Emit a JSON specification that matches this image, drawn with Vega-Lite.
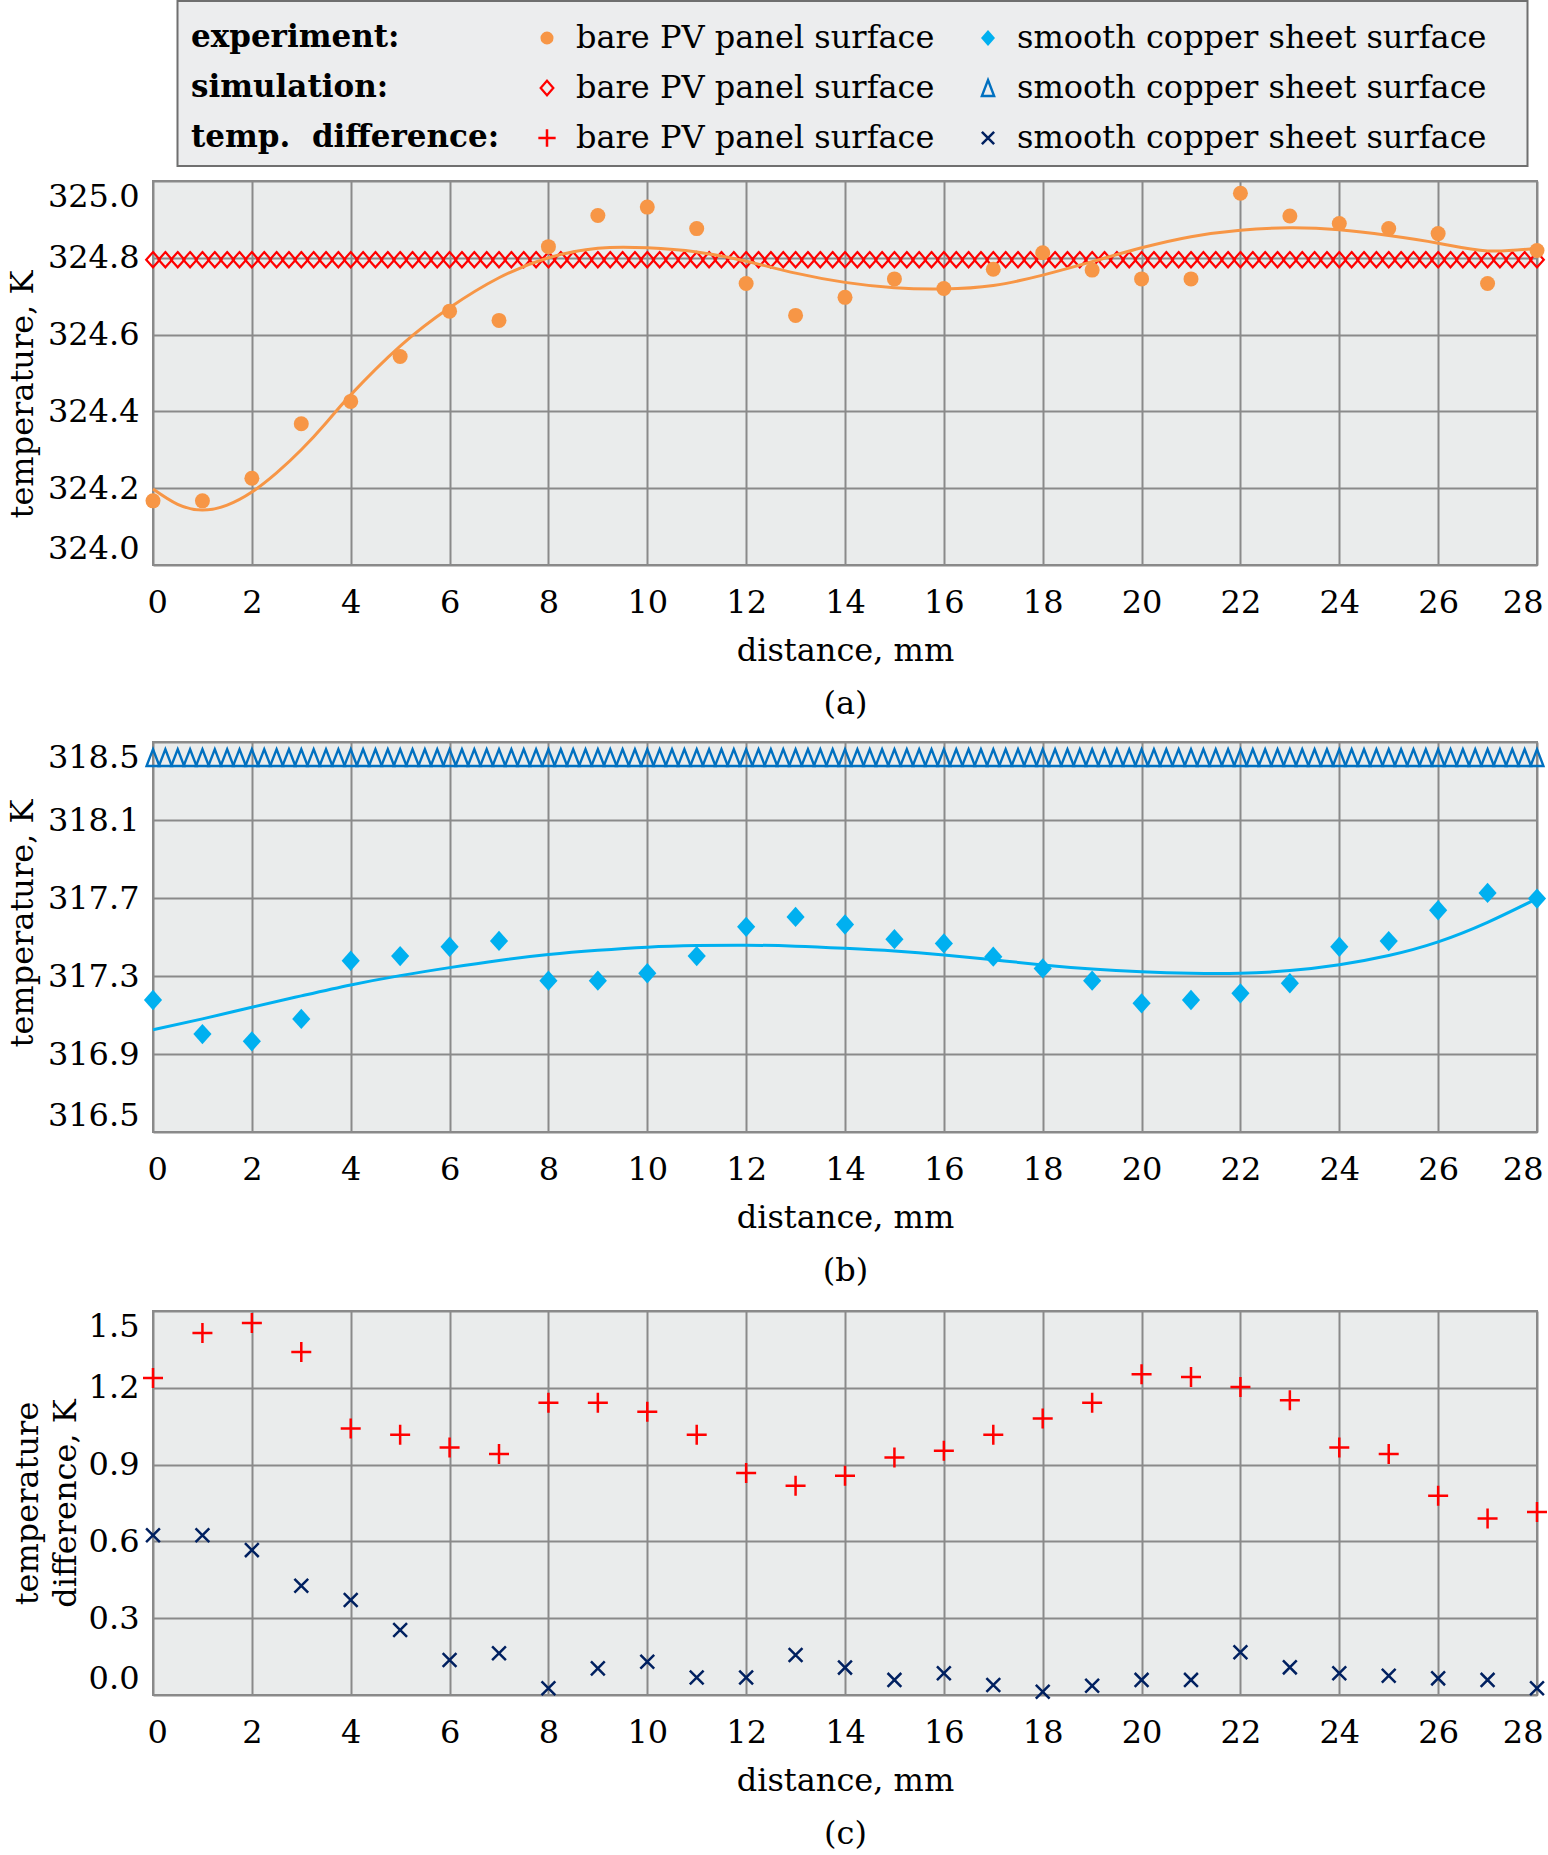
{
  "$schema": "https://vega.github.io/schema/vega-lite/v6.json",
  "padding": {"left": 5, "top": 0, "right": 0, "bottom": 0},
  "background": "white",
  "config": {
    "font": "DejaVu Serif",
    "axis": {"labelFont": "DejaVu Serif", "titleFont": "DejaVu Serif", "labelFontSize": 32, "titleFontSize": 32, "labelColor": "#000000", "titleColor": "#000000", "titleFontWeight": "normal", "domain": false, "ticks": false, "grid": true, "gridColor": "#8a8a8a", "gridWidth": 2, "gridOpacity": 1, "labelFlush": true},
    "axisX": {"labelPadding": 22, "titlePadding": 17, "titleLineHeight": 53, "labelFlushOffset": 6},
    "axisY": {"labelPadding": 14, "titleBaseline": "alphabetic", "labelFlushOffset": 0},
    "view": {"fill": "#eaecec", "stroke": "#888888", "strokeWidth": 2}
  },
  "datasets": {
    "legend": [
      {"row": "experiment:", "col": 0, "kind": "header", "label": "experiment:"},
      {"row": "simulation:", "col": 0, "kind": "header", "label": "simulation:"},
      {"row": "temp. difference:", "col": 0, "kind": "header", "label": "temp.\u00a0 difference:"},
      {"row": "experiment:", "col": 1, "kind": "exp_bare", "label": "bare PV panel surface"},
      {"row": "experiment:", "col": 2, "kind": "exp_copper", "label": "smooth copper sheet surface"},
      {"row": "simulation:", "col": 1, "kind": "sim_bare", "label": "bare PV panel surface"},
      {"row": "simulation:", "col": 2, "kind": "sim_copper", "label": "smooth copper sheet surface"},
      {"row": "temp. difference:", "col": 1, "kind": "diff_bare", "label": "bare PV panel surface"},
      {"row": "temp. difference:", "col": 2, "kind": "diff_copper", "label": "smooth copper sheet surface"}
    ],
    "expA": [
      {"x": 0, "y": 324.167}, {"x": 1, "y": 324.167}, {"x": 2, "y": 324.226}, {"x": 3, "y": 324.368}, {"x": 4, "y": 324.426}, {"x": 5, "y": 324.543}, {"x": 6, "y": 324.661}, {"x": 7, "y": 324.637}, {"x": 8, "y": 324.829}, {"x": 9, "y": 324.91}, {"x": 10, "y": 324.932}, {"x": 11, "y": 324.876}, {"x": 12, "y": 324.733}, {"x": 13, "y": 324.65}, {"x": 14, "y": 324.697}, {"x": 15, "y": 324.745}, {"x": 16, "y": 324.72}, {"x": 17, "y": 324.77}, {"x": 18, "y": 324.813}, {"x": 19, "y": 324.768}, {"x": 20, "y": 324.745}, {"x": 21, "y": 324.745}, {"x": 22, "y": 324.968}, {"x": 23, "y": 324.909}, {"x": 24, "y": 324.889}, {"x": 25, "y": 324.876}, {"x": 26, "y": 324.863}, {"x": 27, "y": 324.733}, {"x": 28, "y": 324.819}
    ],
    "fitA": [
      {"x": 0, "y": 324.198}, {"x": 0.5, "y": 324.158}, {"x": 1, "y": 324.143}, {"x": 1.5, "y": 324.156}, {"x": 2, "y": 324.19}, {"x": 2.5, "y": 324.24}, {"x": 3, "y": 324.3}, {"x": 3.5, "y": 324.37}, {"x": 4, "y": 324.443}, {"x": 5, "y": 324.57}, {"x": 6, "y": 324.67}, {"x": 7, "y": 324.748}, {"x": 8, "y": 324.8}, {"x": 9, "y": 324.825}, {"x": 10, "y": 324.826}, {"x": 11, "y": 324.815}, {"x": 12, "y": 324.791}, {"x": 13, "y": 324.76}, {"x": 14, "y": 324.736}, {"x": 15, "y": 324.722}, {"x": 16, "y": 324.719}, {"x": 17, "y": 324.728}, {"x": 18, "y": 324.755}, {"x": 19, "y": 324.79}, {"x": 20, "y": 324.826}, {"x": 21, "y": 324.855}, {"x": 22, "y": 324.872}, {"x": 23, "y": 324.878}, {"x": 24, "y": 324.873}, {"x": 25, "y": 324.858}, {"x": 26, "y": 324.838}, {"x": 27, "y": 324.818}, {"x": 28, "y": 324.825}
    ],
    "simA": [
      {"x": 0, "y": 324.795}, {"x": 0.25, "y": 324.795}, {"x": 0.5, "y": 324.795}, {"x": 0.75, "y": 324.795}, {"x": 1, "y": 324.795}, {"x": 1.25, "y": 324.795}, {"x": 1.5, "y": 324.795}, {"x": 1.75, "y": 324.795}, {"x": 2, "y": 324.795}, {"x": 2.25, "y": 324.795}, {"x": 2.5, "y": 324.795}, {"x": 2.75, "y": 324.795}, {"x": 3, "y": 324.795}, {"x": 3.25, "y": 324.795}, {"x": 3.5, "y": 324.795}, {"x": 3.75, "y": 324.795}, {"x": 4, "y": 324.795}, {"x": 4.25, "y": 324.795}, {"x": 4.5, "y": 324.795}, {"x": 4.75, "y": 324.795}, {"x": 5, "y": 324.795}, {"x": 5.25, "y": 324.795}, {"x": 5.5, "y": 324.795}, {"x": 5.75, "y": 324.795}, {"x": 6, "y": 324.795}, {"x": 6.25, "y": 324.795}, {"x": 6.5, "y": 324.795}, {"x": 6.75, "y": 324.795}, {"x": 7, "y": 324.795}, {"x": 7.25, "y": 324.795}, {"x": 7.5, "y": 324.795}, {"x": 7.75, "y": 324.795}, {"x": 8, "y": 324.795}, {"x": 8.25, "y": 324.795}, {"x": 8.5, "y": 324.795}, {"x": 8.75, "y": 324.795}, {"x": 9, "y": 324.795}, {"x": 9.25, "y": 324.795}, {"x": 9.5, "y": 324.795}, {"x": 9.75, "y": 324.795}, {"x": 10, "y": 324.795}, {"x": 10.25, "y": 324.795}, {"x": 10.5, "y": 324.795}, {"x": 10.75, "y": 324.795}, {"x": 11, "y": 324.795}, {"x": 11.25, "y": 324.795}, {"x": 11.5, "y": 324.795}, {"x": 11.75, "y": 324.795}, {"x": 12, "y": 324.795}, {"x": 12.25, "y": 324.795}, {"x": 12.5, "y": 324.795}, {"x": 12.75, "y": 324.795}, {"x": 13, "y": 324.795}, {"x": 13.25, "y": 324.795}, {"x": 13.5, "y": 324.795}, {"x": 13.75, "y": 324.795}, {"x": 14, "y": 324.795}, {"x": 14.25, "y": 324.795}, {"x": 14.5, "y": 324.795}, {"x": 14.75, "y": 324.795}, {"x": 15, "y": 324.795}, {"x": 15.25, "y": 324.795}, {"x": 15.5, "y": 324.795}, {"x": 15.75, "y": 324.795}, {"x": 16, "y": 324.795}, {"x": 16.25, "y": 324.795}, {"x": 16.5, "y": 324.795}, {"x": 16.75, "y": 324.795}, {"x": 17, "y": 324.795}, {"x": 17.25, "y": 324.795}, {"x": 17.5, "y": 324.795}, {"x": 17.75, "y": 324.795}, {"x": 18, "y": 324.795}, {"x": 18.25, "y": 324.795}, {"x": 18.5, "y": 324.795}, {"x": 18.75, "y": 324.795}, {"x": 19, "y": 324.795}, {"x": 19.25, "y": 324.795}, {"x": 19.5, "y": 324.795}, {"x": 19.75, "y": 324.795}, {"x": 20, "y": 324.795}, {"x": 20.25, "y": 324.795}, {"x": 20.5, "y": 324.795}, {"x": 20.75, "y": 324.795}, {"x": 21, "y": 324.795}, {"x": 21.25, "y": 324.795}, {"x": 21.5, "y": 324.795}, {"x": 21.75, "y": 324.795}, {"x": 22, "y": 324.795}, {"x": 22.25, "y": 324.795}, {"x": 22.5, "y": 324.795}, {"x": 22.75, "y": 324.795}, {"x": 23, "y": 324.795}, {"x": 23.25, "y": 324.795}, {"x": 23.5, "y": 324.795}, {"x": 23.75, "y": 324.795}, {"x": 24, "y": 324.795}, {"x": 24.25, "y": 324.795}, {"x": 24.5, "y": 324.795}, {"x": 24.75, "y": 324.795}, {"x": 25, "y": 324.795}, {"x": 25.25, "y": 324.795}, {"x": 25.5, "y": 324.795}, {"x": 25.75, "y": 324.795}, {"x": 26, "y": 324.795}, {"x": 26.25, "y": 324.795}, {"x": 26.5, "y": 324.795}, {"x": 26.75, "y": 324.795}, {"x": 27, "y": 324.795}, {"x": 27.25, "y": 324.795}, {"x": 27.5, "y": 324.795}, {"x": 27.75, "y": 324.795}, {"x": 28, "y": 324.795}
    ],
    "expB": [
      {"x": 0, "y": 317.177}, {"x": 1, "y": 317.002}, {"x": 2, "y": 316.965}, {"x": 3, "y": 317.08}, {"x": 4, "y": 317.378}, {"x": 5, "y": 317.402}, {"x": 6, "y": 317.45}, {"x": 7, "y": 317.48}, {"x": 8, "y": 317.276}, {"x": 9, "y": 317.276}, {"x": 10, "y": 317.314}, {"x": 11, "y": 317.402}, {"x": 12, "y": 317.552}, {"x": 13, "y": 317.603}, {"x": 14, "y": 317.564}, {"x": 15, "y": 317.489}, {"x": 16, "y": 317.467}, {"x": 17, "y": 317.399}, {"x": 18, "y": 317.339}, {"x": 19, "y": 317.276}, {"x": 20, "y": 317.16}, {"x": 21, "y": 317.177}, {"x": 22, "y": 317.211}, {"x": 23, "y": 317.263}, {"x": 24, "y": 317.45}, {"x": 25, "y": 317.479}, {"x": 26, "y": 317.637}, {"x": 27, "y": 317.726}, {"x": 28, "y": 317.697}
    ],
    "fitB": [
      {"x": 0, "y": 317.024}, {"x": 1, "y": 317.08}, {"x": 2, "y": 317.14}, {"x": 3, "y": 317.198}, {"x": 4, "y": 317.254}, {"x": 5, "y": 317.302}, {"x": 6, "y": 317.343}, {"x": 7, "y": 317.38}, {"x": 8, "y": 317.41}, {"x": 9, "y": 317.432}, {"x": 10, "y": 317.448}, {"x": 11, "y": 317.456}, {"x": 12, "y": 317.458}, {"x": 13, "y": 317.453}, {"x": 14, "y": 317.442}, {"x": 15, "y": 317.428}, {"x": 16, "y": 317.408}, {"x": 17, "y": 317.383}, {"x": 18, "y": 317.357}, {"x": 19, "y": 317.336}, {"x": 20, "y": 317.322}, {"x": 21, "y": 317.314}, {"x": 22, "y": 317.314}, {"x": 23, "y": 317.328}, {"x": 24, "y": 317.358}, {"x": 25, "y": 317.405}, {"x": 26, "y": 317.475}, {"x": 27, "y": 317.575}, {"x": 28, "y": 317.697}
    ],
    "simB": [
      {"x": 0, "y": 318.42}, {"x": 0.25, "y": 318.42}, {"x": 0.5, "y": 318.42}, {"x": 0.75, "y": 318.42}, {"x": 1, "y": 318.42}, {"x": 1.25, "y": 318.42}, {"x": 1.5, "y": 318.42}, {"x": 1.75, "y": 318.42}, {"x": 2, "y": 318.42}, {"x": 2.25, "y": 318.42}, {"x": 2.5, "y": 318.42}, {"x": 2.75, "y": 318.42}, {"x": 3, "y": 318.42}, {"x": 3.25, "y": 318.42}, {"x": 3.5, "y": 318.42}, {"x": 3.75, "y": 318.42}, {"x": 4, "y": 318.42}, {"x": 4.25, "y": 318.42}, {"x": 4.5, "y": 318.42}, {"x": 4.75, "y": 318.42}, {"x": 5, "y": 318.42}, {"x": 5.25, "y": 318.42}, {"x": 5.5, "y": 318.42}, {"x": 5.75, "y": 318.42}, {"x": 6, "y": 318.42}, {"x": 6.25, "y": 318.42}, {"x": 6.5, "y": 318.42}, {"x": 6.75, "y": 318.42}, {"x": 7, "y": 318.42}, {"x": 7.25, "y": 318.42}, {"x": 7.5, "y": 318.42}, {"x": 7.75, "y": 318.42}, {"x": 8, "y": 318.42}, {"x": 8.25, "y": 318.42}, {"x": 8.5, "y": 318.42}, {"x": 8.75, "y": 318.42}, {"x": 9, "y": 318.42}, {"x": 9.25, "y": 318.42}, {"x": 9.5, "y": 318.42}, {"x": 9.75, "y": 318.42}, {"x": 10, "y": 318.42}, {"x": 10.25, "y": 318.42}, {"x": 10.5, "y": 318.42}, {"x": 10.75, "y": 318.42}, {"x": 11, "y": 318.42}, {"x": 11.25, "y": 318.42}, {"x": 11.5, "y": 318.42}, {"x": 11.75, "y": 318.42}, {"x": 12, "y": 318.42}, {"x": 12.25, "y": 318.42}, {"x": 12.5, "y": 318.42}, {"x": 12.75, "y": 318.42}, {"x": 13, "y": 318.42}, {"x": 13.25, "y": 318.42}, {"x": 13.5, "y": 318.42}, {"x": 13.75, "y": 318.42}, {"x": 14, "y": 318.42}, {"x": 14.25, "y": 318.42}, {"x": 14.5, "y": 318.42}, {"x": 14.75, "y": 318.42}, {"x": 15, "y": 318.42}, {"x": 15.25, "y": 318.42}, {"x": 15.5, "y": 318.42}, {"x": 15.75, "y": 318.42}, {"x": 16, "y": 318.42}, {"x": 16.25, "y": 318.42}, {"x": 16.5, "y": 318.42}, {"x": 16.75, "y": 318.42}, {"x": 17, "y": 318.42}, {"x": 17.25, "y": 318.42}, {"x": 17.5, "y": 318.42}, {"x": 17.75, "y": 318.42}, {"x": 18, "y": 318.42}, {"x": 18.25, "y": 318.42}, {"x": 18.5, "y": 318.42}, {"x": 18.75, "y": 318.42}, {"x": 19, "y": 318.42}, {"x": 19.25, "y": 318.42}, {"x": 19.5, "y": 318.42}, {"x": 19.75, "y": 318.42}, {"x": 20, "y": 318.42}, {"x": 20.25, "y": 318.42}, {"x": 20.5, "y": 318.42}, {"x": 20.75, "y": 318.42}, {"x": 21, "y": 318.42}, {"x": 21.25, "y": 318.42}, {"x": 21.5, "y": 318.42}, {"x": 21.75, "y": 318.42}, {"x": 22, "y": 318.42}, {"x": 22.25, "y": 318.42}, {"x": 22.5, "y": 318.42}, {"x": 22.75, "y": 318.42}, {"x": 23, "y": 318.42}, {"x": 23.25, "y": 318.42}, {"x": 23.5, "y": 318.42}, {"x": 23.75, "y": 318.42}, {"x": 24, "y": 318.42}, {"x": 24.25, "y": 318.42}, {"x": 24.5, "y": 318.42}, {"x": 24.75, "y": 318.42}, {"x": 25, "y": 318.42}, {"x": 25.25, "y": 318.42}, {"x": 25.5, "y": 318.42}, {"x": 25.75, "y": 318.42}, {"x": 26, "y": 318.42}, {"x": 26.25, "y": 318.42}, {"x": 26.5, "y": 318.42}, {"x": 26.75, "y": 318.42}, {"x": 27, "y": 318.42}, {"x": 27.25, "y": 318.42}, {"x": 27.5, "y": 318.42}, {"x": 27.75, "y": 318.42}, {"x": 28, "y": 318.42}
    ],
    "diffBare": [
      {"x": 0, "y": 1.238}, {"x": 1, "y": 1.414}, {"x": 2, "y": 1.453}, {"x": 3, "y": 1.34}, {"x": 4, "y": 1.041}, {"x": 5, "y": 1.017}, {"x": 6, "y": 0.967}, {"x": 7, "y": 0.941}, {"x": 8, "y": 1.142}, {"x": 9, "y": 1.142}, {"x": 10, "y": 1.106}, {"x": 11, "y": 1.017}, {"x": 12, "y": 0.867}, {"x": 13, "y": 0.817}, {"x": 14, "y": 0.856}, {"x": 15, "y": 0.928}, {"x": 16, "y": 0.954}, {"x": 17, "y": 1.017}, {"x": 18, "y": 1.08}, {"x": 19, "y": 1.142}, {"x": 20, "y": 1.253}, {"x": 21, "y": 1.242}, {"x": 22, "y": 1.203}, {"x": 23, "y": 1.151}, {"x": 24, "y": 0.967}, {"x": 25, "y": 0.941}, {"x": 26, "y": 0.778}, {"x": 27, "y": 0.689}, {"x": 28, "y": 0.715}
    ],
    "diffCopper": [
      {"x": 0, "y": 0.624}, {"x": 1, "y": 0.624}, {"x": 2, "y": 0.566}, {"x": 3, "y": 0.427}, {"x": 4, "y": 0.371}, {"x": 5, "y": 0.254}, {"x": 6, "y": 0.137}, {"x": 7, "y": 0.163}, {"x": 8, "y": 0.026}, {"x": 9, "y": 0.104}, {"x": 10, "y": 0.13}, {"x": 11, "y": 0.068}, {"x": 12, "y": 0.068}, {"x": 13, "y": 0.156}, {"x": 14, "y": 0.107}, {"x": 15, "y": 0.059}, {"x": 16, "y": 0.085}, {"x": 17, "y": 0.039}, {"x": 18, "y": 0.013}, {"x": 19, "y": 0.036}, {"x": 20, "y": 0.059}, {"x": 21, "y": 0.059}, {"x": 22, "y": 0.167}, {"x": 23, "y": 0.108}, {"x": 24, "y": 0.085}, {"x": 25, "y": 0.075}, {"x": 26, "y": 0.065}, {"x": 27, "y": 0.059}, {"x": 28, "y": 0.026}
    ]
  },
  "concat": [
    {
      "width": 1350,
      "height": 165,
      "view": {"fill": "#ecedee", "stroke": "#6f6f6f", "strokeWidth": 2},
      "data": {"name": "legend"},
      "encoding": {
        "x": {"field": "col", "type": "quantitative", "scale": {"domain": [0, 1, 2], "range": [13.5, 369.5, 810.5], "zero": false, "nice": false}, "axis": null},
        "y": {"field": "row", "type": "nominal", "scale": {"type": "point", "domain": ["experiment:", "simulation:", "temp. difference:"], "range": [37, 137], "padding": 0}, "axis": null}
      },
      "layer": [
        {"transform": [{"filter": "datum.kind == 'header'"}], "mark": {"type": "text", "align": "left", "baseline": "middle", "fontWeight": "bold", "fontSize": 31, "font": "DejaVu Serif", "color": "#000000"}, "encoding": {"text": {"field": "label"}}},
        {"transform": [{"filter": "datum.kind != 'header'"}], "mark": {"type": "text", "align": "left", "baseline": "middle", "dx": 29, "fontSize": 32, "font": "DejaVu Serif", "color": "#000000"}, "encoding": {"text": {"field": "label"}}},
        {"transform": [{"filter": "datum.kind == 'exp_bare'"}], "mark": {"type": "point", "shape": "circle", "filled": true, "size": 170, "color": "#f79646", "opacity": 1}},
        {"transform": [{"filter": "datum.kind == 'exp_copper'"}], "mark": {"type": "point", "shape": "M0,-1.15L1,0L0,1.15L-1,0Z", "filled": true, "size": 196, "color": "#00b0f0", "opacity": 1}},
        {"transform": [{"filter": "datum.kind == 'sim_bare'"}], "mark": {"type": "point", "shape": "M0,-1.15L1,0L0,1.15L-1,0Z", "filled": false, "size": 160, "color": "#ff0000", "strokeWidth": 2.2, "opacity": 1}},
        {"transform": [{"filter": "datum.kind == 'sim_copper'"}], "mark": {"type": "point", "shape": "M0,-1.3L1,1.3L-1,1.3Z", "filled": false, "size": 150, "color": "#0070c0", "strokeWidth": 2.4, "opacity": 1}},
        {"transform": [{"filter": "datum.kind == 'diff_bare'"}], "mark": {"type": "point", "shape": "M-1,0L1,0M0,-1L0,1", "filled": false, "size": 300, "color": "#ff0000", "strokeWidth": 2.5, "opacity": 1}},
        {"transform": [{"filter": "datum.kind == 'diff_copper'"}], "mark": {"type": "point", "shape": "M-1,-1L1,1M-1,1L1,-1", "filled": false, "size": 150, "color": "#002060", "strokeWidth": 2.5, "opacity": 1}}
      ]
    },
    {
      "vconcat": [
        {
          "width": 1384,
          "height": 384,
          "encoding": {
            "x": {"field": "x", "type": "quantitative", "scale": {"domain": [0, 28], "nice": false, "zero": false}, "axis": {"values": [0, 2, 4, 6, 8, 10, 12, 14, 16, 18, 20, 22, 24, 26, 28], "format": "d", "title": ["distance, mm", "(a)"]}},
            "y": {"field": "y", "type": "quantitative", "scale": {"domain": [324, 325], "nice": false, "zero": false}, "axis": {"values": [324, 324.2, 324.4, 324.6, 324.8, 325], "format": ".1f", "title": "temperature, K", "minExtent": 106, "maxExtent": 106, "titlePadding": 15, "titleY": 213}}
          },
          "layer": [
            {"data": {"name": "simA"}, "mark": {"type": "point", "shape": "M0,-1.12L1,0L0,1.12L-1,0Z", "filled": false, "size": 185, "color": "#ff0000", "strokeWidth": 2.2, "opacity": 1}},
            {"data": {"name": "fitA"}, "mark": {"type": "line", "color": "#f79646", "strokeWidth": 3, "interpolate": "natural"}},
            {"data": {"name": "expA"}, "mark": {"type": "point", "shape": "circle", "filled": true, "size": 225, "color": "#f79646", "opacity": 1}}
          ]
        },
        {
          "width": 1384,
          "height": 390,
          "encoding": {
            "x": {"field": "x", "type": "quantitative", "scale": {"domain": [0, 28], "nice": false, "zero": false}, "axis": {"values": [0, 2, 4, 6, 8, 10, 12, 14, 16, 18, 20, 22, 24, 26, 28], "format": "d", "title": ["distance, mm", "(b)"]}},
            "y": {"field": "y", "type": "quantitative", "scale": {"domain": [316.5, 318.5], "nice": false, "zero": false}, "axis": {"values": [316.5, 316.9, 317.3, 317.7, 318.1, 318.5], "format": ".1f", "title": "temperature, K", "minExtent": 106, "maxExtent": 106, "titlePadding": 15, "titleY": 181}}
          },
          "layer": [
            {"data": {"name": "simB"}, "mark": {"type": "point", "shape": "M0,-1.3L1,1.3L-1,1.3Z", "filled": false, "size": 165, "color": "#0070c0", "strokeWidth": 2.4, "opacity": 1}},
            {"data": {"name": "fitB"}, "mark": {"type": "line", "color": "#00b0f0", "strokeWidth": 3, "interpolate": "natural"}},
            {"data": {"name": "expB"}, "mark": {"type": "point", "shape": "M0,-1.12L1,0L0,1.12L-1,0Z", "filled": true, "size": 330, "color": "#00b0f0", "opacity": 1}}
          ]
        },
        {
          "width": 1384,
          "height": 384,
          "encoding": {
            "x": {"field": "x", "type": "quantitative", "scale": {"domain": [0, 28], "nice": false, "zero": false}, "axis": {"values": [0, 2, 4, 6, 8, 10, 12, 14, 16, 18, 20, 22, 24, 26, 28], "format": "d", "title": ["distance, mm", "(c)"]}},
            "y": {"field": "y", "type": "quantitative", "scale": {"domain": [0, 1.5], "nice": false, "zero": false}, "axis": {"values": [0, 0.3, 0.6, 0.9, 1.2, 1.5], "format": ".1f", "title": ["temperature", "difference, K"], "titleLineHeight": 38, "minExtent": 65, "maxExtent": 65, "titlePadding": 13}}
          },
          "layer": [
            {"data": {"name": "diffBare"}, "mark": {"type": "point", "shape": "M-1,0L1,0M0,-1L0,1", "filled": false, "size": 400, "color": "#ff0000", "strokeWidth": 2.5, "opacity": 1}},
            {"data": {"name": "diffCopper"}, "mark": {"type": "point", "shape": "M-1,-1L1,1M-1,1L1,-1", "filled": false, "size": 190, "color": "#002060", "strokeWidth": 2.5, "opacity": 1}}
          ]
        }
      ],
      "spacing": 20
    }
  ],
  "columns": 1,
  "center": true,
  "spacing": 12
}
